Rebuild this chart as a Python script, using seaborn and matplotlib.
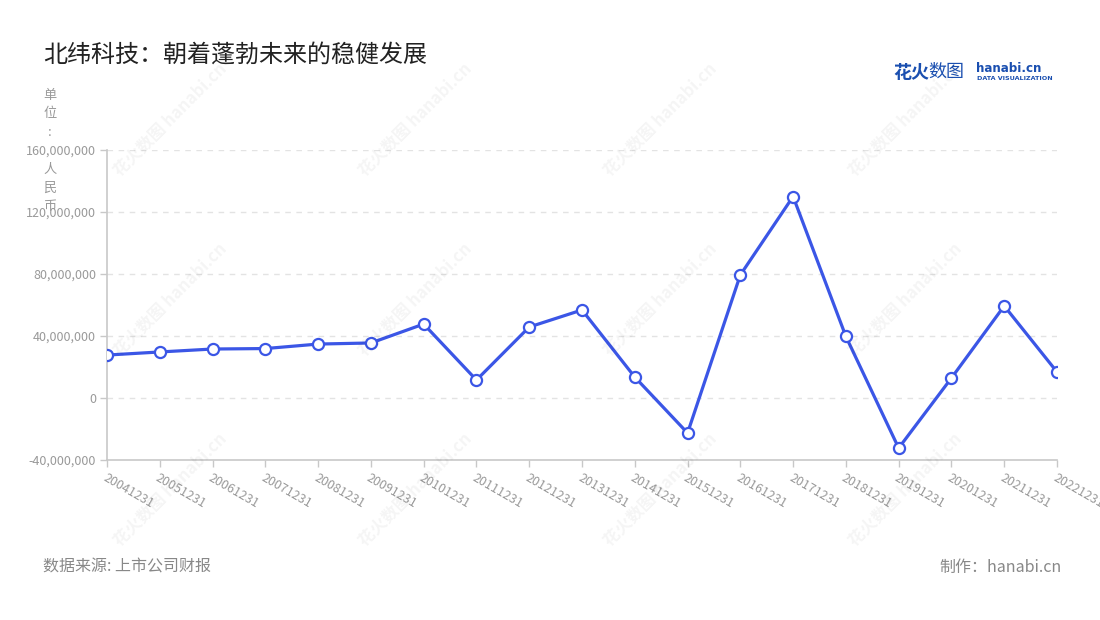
import pandas as pd
import seaborn as sns
import matplotlib.pyplot as plt
from matplotlib.ticker import FuncFormatter

# data
periods = ["20041231", "20051231", "20061231", "20071231", "20081231", "20091231",
           "20101231", "20111231", "20121231", "20131231", "20141231", "20151231",
           "20161231", "20171231", "20181231", "20191231", "20201231", "20211231",
           "20221231"]
values = [27.7e6, 29.7e6, 31.6e6, 31.9e6, 34.8e6, 35.5e6,
          47.7e6, 11.6e6, 45.8e6, 56.8e6, 13.5e6, -22.6e6,
          79.4e6, 130.0e6, 39.7e6, -32.3e6, 12.9e6, 59.4e6,
          16.8e6]
y_ticks = [-40e6, 0, 40e6, 80e6, 120e6, 160e6]

title = "北纬科技：朝着蓬勃未来的稳健发展"
unit = "单位: 人民币"
source = "数据来源: 上市公司财报"
maker = "制作：hanabi.cn"

df = pd.DataFrame({"period": periods, "value": values})

sns.set_theme(style="white")
plt.rcParams["font.family"] = ["Noto Sans CJK SC", "DejaVu Sans"]
plt.rcParams["axes.unicode_minus"] = False

line_color = "#3b56e6"
grey = "#999999"

fig = plt.figure(figsize=(11, 6.2), dpi=100)
ax = fig.add_axes([107 / 1100, 1 - 460 / 620, 950 / 1100, 310 / 620])

sns.lineplot(data=df, x="period", y="value", ax=ax, color=line_color,
             linewidth=2.3, marker="o", markersize=8, markerfacecolor="white",
             markeredgecolor=line_color, markeredgewidth=1.6, zorder=5)

ax.set_xlim(0, len(periods) - 1)
ax.set_ylim(y_ticks[0], y_ticks[-1])
ax.set_yticks(y_ticks)
ax.yaxis.set_major_formatter(FuncFormatter(lambda v, p: f"{int(v):,}"))
ax.set_xlabel("")
ax.set_ylabel("")

for y in y_ticks[1:]:
    ax.axhline(y, color="#e3e3e3", linewidth=1, linestyle=(0, (4, 4)), zorder=1)

for side in ["top", "right"]:
    ax.spines[side].set_visible(False)
for side in ["left", "bottom"]:
    ax.spines[side].set_color("#c8c8c8")
    ax.spines[side].set_linewidth(1.2)

ax.tick_params(axis="both", which="major", length=5, width=1, color="#c8c8c8",
               labelcolor=grey, labelsize=9, left=True, bottom=True)
ax.tick_params(axis="y", pad=3)
for lbl in ax.get_xticklabels():
    lbl.set_rotation(-30)
    lbl.set_ha("left")
    lbl.set_va("top")
    lbl.set_rotation_mode("anchor")

# title, unit and footers
fig.text(43 / 1100, 1 - 55 / 620, title, fontsize=17.3, color="#222222", va="center")
fig.text(50 / 1100, 1 - 89 / 620, "\n".join(unit), fontsize=9.5,
         color=grey, va="top", ha="center", linespacing=1.55)
fig.text(43 / 1100, 1 - 567 / 620, source, fontsize=11.5, color="#888888", va="center")
fig.text(1062 / 1100, 1 - 567 / 620, maker, fontsize=11.5, color="#888888",
         va="center", ha="right")

# logo
fig.text(893 / 1100, 1 - 72 / 620, "花火", fontsize=13, color="#1a4fb0",
         fontweight="bold", va="center")
fig.text(928 / 1100, 1 - 72 / 620, "数图", fontsize=13, color="#1a4fb0", va="center")
fig.text(976 / 1100, 1 - 69 / 620, "hanabi.cn", fontsize=8.6, color="#1a4fb0",
         fontweight="bold", va="center", family="DejaVu Sans")
fig.text(977 / 1100, 1 - 79 / 620, "DATA VISUALIZATION", fontsize=4.6,
         color="#1a4fb0", va="center", family="DejaVu Sans", fontweight="bold")

# faint watermarks
wm_x = [170, 415, 660, 905]
wm_y = [120, 300, 490]
for wy in wm_y:
    for wx in wm_x:
        fig.text(wx / 1100, 1 - wy / 620, "花火数图 hanabi.cn", fontsize=12,
                 color="#000000", alpha=0.045, rotation=45, ha="center",
                 va="center", fontweight="bold")

fig.savefig("out.png", dpi=100, facecolor="white")
